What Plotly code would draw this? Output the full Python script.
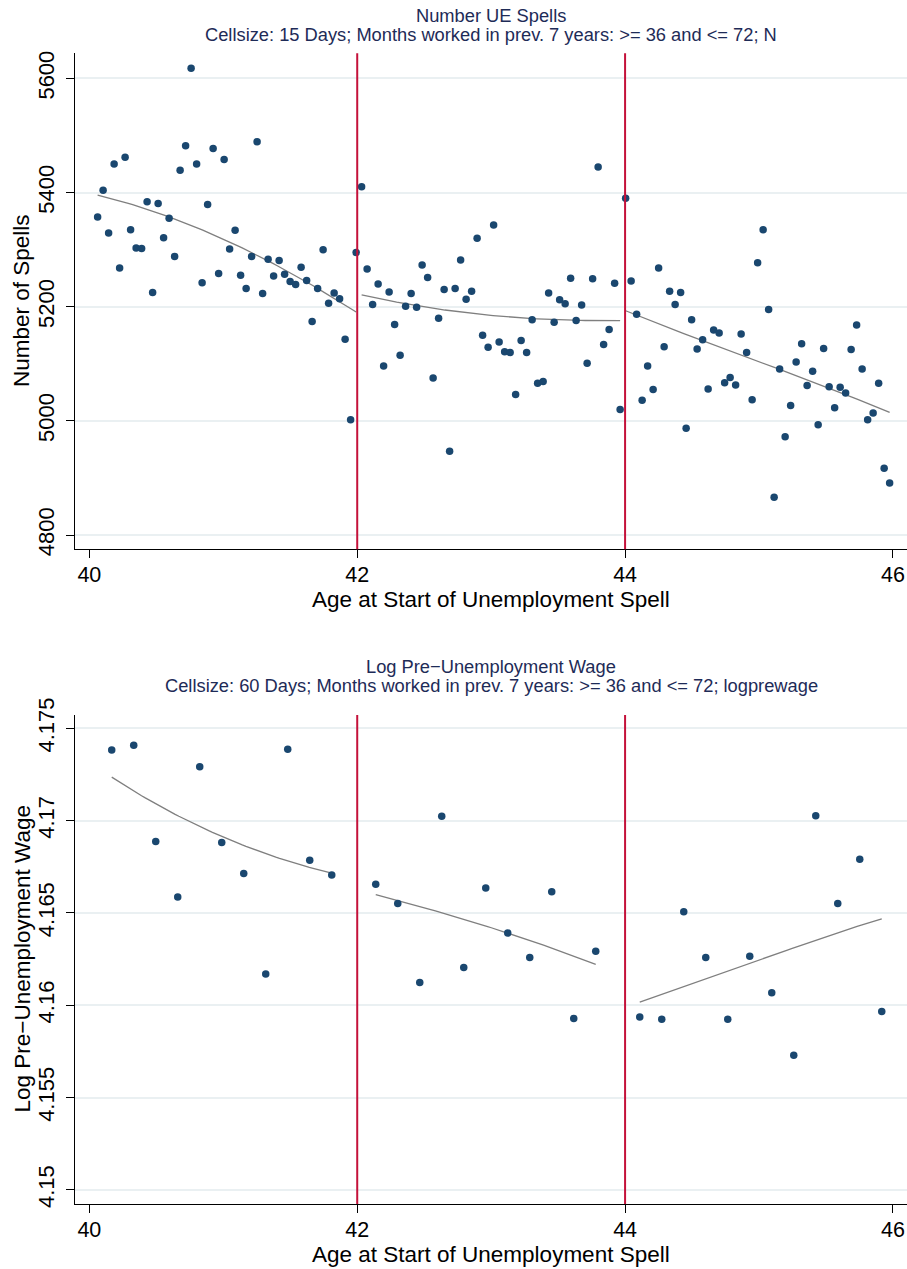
import numpy as np
import plotly.graph_objects as go

# ---- data -------------------------------------------------------------
DAYS_PER_YEAR = 365.25
CUTOFFS = [42, 44]
AGE_MIN, AGE_MAX = 40, 46

# Number of UE spells per 15-day age cell (cells in order, starting at age 40)
CELL_SPELLS = 15
FIRST_CENTER_SPELLS = 22.5          # days after 40th birthday of the first cell centre
spells = [
    5357, 5404, 5329, 5450, 5268, 5462, 5335, 5303, 5302, 5384,
    5225, 5381, 5321, 5355, 5288, 5439, 5482, 5618, 5450, 5242,
    5379, 5477, 5258, 5458, 5301, 5334, 5255, 5232, 5288, 5489,
    5223, 5283, 5254, 5281, 5257, 5244, 5239, 5269, 5246, 5174,
    5232, 5300, 5206, 5224, 5214, 5143, 5002, 5295, 5410, 5266,
    5204, 5240, 5096, 5226, 5169, 5115, 5201, 5223, 5199, 5273,
    5251, 5075, 5180, 5230, 4947, 5232, 5282, 5213, 5227, 5320,
    5150, 5129, 5343, 5138, 5121, 5120, 5046, 5141, 5120, 5177,
    5066, 5069, 5224, 5173, 5212, 5205, 5250, 5176, 5203, 5101,
    5249, 5445, 5134, 5160, 5241, 5020, 5390, 5245, 5187, 5036,
    5096, 5055, 5268, 5130, 5227, 5204, 5225, 4987, 5177, 5126,
    5142, 5056, 5159, 5154, 5067, 5076, 5063, 5152, 5120, 5037,
    5277, 5335, 5195, 4866, 5091, 4972, 5027, 5103, 5135, 5062,
    5087, 4993, 5127, 5060, 5023, 5059, 5049, 5125, 5168, 5091,
    5002, 5014, 5066, 4917, 4891,
]

# Mean log pre-unemployment wage per 60-day age cell (None = empty cell)
CELL_WAGE = 60
FIRST_CENTER_WAGE = 61
logprewage = [
    4.17383, 4.17408, 4.16887, 4.16586, 4.17292, 4.16882, 4.16714, 4.16169,
    4.17387, 4.16786, 4.16705, None,
    4.16656, 4.16551, 4.16124, 4.17024, 4.16205, 4.16635, 4.16391, 4.16259,
    4.16615, 4.15929, 4.16293, None,
    4.15936, 4.15925, 4.16506, 4.16259, 4.15925, 4.16265, 4.16068, 4.15729,
    4.17026, 4.16551, 4.16791, 4.15966,
]

x_ticks = [40, 42, 44, 46]
spell_ticks = [4800, 5000, 5200, 5400, 5600]
wage_ticks = [4.15, 4.155, 4.16, 4.165, 4.17, 4.175]
wage_ticktext = ["4.15", "4.155", "4.16", "4.165", "4.17", "4.175"]

# cell centres in years of age
age_spells = AGE_MIN + (FIRST_CENTER_SPELLS + CELL_SPELLS * np.arange(len(spells))) / DAYS_PER_YEAR
age_wage = AGE_MIN + (FIRST_CENTER_WAGE + CELL_WAGE * np.arange(len(logprewage))) / DAYS_PER_YEAR

BANDWIDTH = 1.0   # years, Gaussian kernel


def local_linear(x, y, grid, h=BANDWIDTH):
    """Kernel-weighted local linear regression evaluated on grid."""
    out = np.empty(len(grid))
    for i, g in enumerate(grid):
        w = np.exp(-0.5 * ((x - g) / h) ** 2)
        xm = np.sum(w * x) / np.sum(w)
        ym = np.sum(w * y) / np.sum(w)
        b = np.sum(w * (x - xm) * (y - ym)) / np.sum(w * (x - xm) ** 2)
        out[i] = ym + b * (g - xm)
    return out


def segment_fits(x, y):
    """Smoothed curve on each side of the age cutoffs."""
    x = np.asarray(x, float)
    y = np.array([np.nan if v is None else v for v in y], float)
    edges = [AGE_MIN, *CUTOFFS, AGE_MAX]
    fits = []
    for lo, hi in zip(edges[:-1], edges[1:]):
        m = (x >= lo) & (x < hi) & ~np.isnan(y)
        grid = np.linspace(x[m].min(), x[m].max(), 60)
        fits.append((grid, local_linear(x[m], y[m], grid)))
    return fits


# ---- styling ------------------------------------------------------------
W, H = 907, 1269
FONT = "Liberation Sans, Arial, sans-serif"
DOT = "#1a476f"
FITC = "#7f7f7f"
CUTC = "#c4113a"
GRID = "#eaf0f2"
TITLEC = "#1e2b57"

X0_PX, X1_PX = 75.3, 907.0
TOP_PX = (53.3, 549.3)
BOT_PX = (715.0, 1204.0)


def ydom(px):
    return [1 - px[1] / H, 1 - px[0] / H]


fig = go.Figure()

panels = [
    ("x", "y", age_spells, spells),
    ("x2", "y2", age_wage, logprewage),
]
for xa, ya, xs, ys in panels:
    for fx, fy in segment_fits(xs, ys):
        fig.add_trace(go.Scatter(x=fx, y=fy, mode="lines", xaxis=xa, yaxis=ya,
                                 line=dict(color=FITC, width=1.3),
                                 hoverinfo="skip", showlegend=False))
    fig.add_trace(go.Scatter(x=xs, y=ys, mode="markers", xaxis=xa, yaxis=ya,
                             marker=dict(color=DOT, size=7.5, line=dict(width=0)),
                             showlegend=False))

# cutoff lines
for xa, ya in [("x", "y"), ("x2", "y2")]:
    for c in CUTOFFS:
        fig.add_shape(type="line", xref=xa, yref=f"{ya} domain", x0=c, x1=c, y0=0, y1=1,
                      line=dict(color=CUTC, width=2))

xaxis_common = dict(
    range=[39.895, 46.105], domain=[X0_PX / W, X1_PX / W], automargin=False,
    tickvals=x_ticks, ticks="outside", ticklen=8, tickwidth=1.2, tickcolor="black",
    showline=True, linecolor="black", linewidth=1.3, showgrid=False, zeroline=False,
    ticklabelstandoff=-2,
    tickfont=dict(family=FONT, size=21.5, color="black"),
)
yaxis_common = dict(
    ticks="outside", ticklen=8, tickwidth=1.2, tickcolor="black", automargin=False,
    showline=True, linecolor="black", linewidth=1.3, zeroline=False,
    showgrid=True, gridcolor=GRID, gridwidth=1.6, tickangle=-90, ticklabelstandoff=3,
    tickfont=dict(family=FONT, size=22, color="black"),
)

fig.update_layout(
    width=W, height=H, margin=dict(l=0, r=0, t=0, b=0, pad=0), autosize=False,
    paper_bgcolor="white", plot_bgcolor="white",
    xaxis=dict(**xaxis_common, anchor="y"),
    yaxis=dict(**yaxis_common, anchor="x", domain=ydom(TOP_PX), range=[4775, 5644],
               tickvals=spell_ticks),
    xaxis2=dict(**xaxis_common, anchor="y2"),
    yaxis2=dict(**yaxis_common, anchor="x2", domain=ydom(BOT_PX), range=[4.14924, 4.17572],
                tickvals=wage_ticks, ticktext=wage_ticktext),
)

cx = (X0_PX + X1_PX) / 2 / W


def py(px):
    return 1 - px / H


ann = [
    # panel titles
    dict(text="Number UE Spells", x=cx, y=py(15), size=18.3, color=TITLEC),
    dict(text="Cellsize: 15 Days; Months worked in prev. 7 years: >= 36 and <= 72; N",
         x=cx, y=py(34), size=18.3, color=TITLEC),
    dict(text="Log Pre\u2212Unemployment Wage", x=cx, y=py(666), size=18.3, color=TITLEC),
    dict(text="Cellsize: 60 Days; Months worked in prev. 7 years: >= 36 and <= 72; logprewage",
         x=cx, y=py(685), size=18.3, color=TITLEC),
    # axis titles
    dict(text="Age at Start of Unemployment Spell", x=cx, y=py(599), size=22.5, color="black"),
    dict(text="Age at Start of Unemployment Spell", x=cx, y=py(1254), size=22.5, color="black"),
    dict(text="Number of Spells", x=21.5 / W, y=py(300.5), size=22.5,
         color="black", angle=-90),
    dict(text="Log Pre\u2212Unemployment Wage", x=21.5 / W, y=py(959), size=22.5,
         color="black", angle=-90),
]
for a in ann:
    fig.add_annotation(text=a["text"], x=a["x"], y=a["y"], xref="paper", yref="paper",
                       xanchor="center", yanchor="middle", showarrow=False,
                       textangle=a.get("angle", 0),
                       font=dict(family=FONT, size=a["size"], color=a["color"]))

fig.write_html("out.html")
